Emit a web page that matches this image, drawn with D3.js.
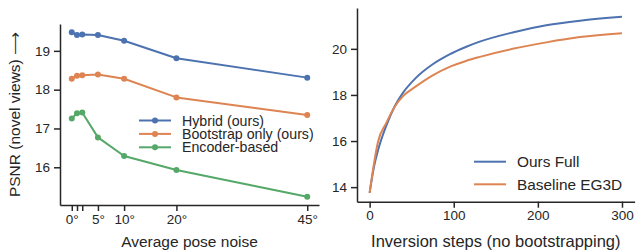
<!DOCTYPE html>
<html>
<head>
<meta charset="utf-8">
<script src="https://cdn.jsdelivr.net/npm/d3@7"></script>
<style>
    html, body { margin: 0; padding: 0; background: #fff; }
    svg { display: block; font-family: "Liberation Sans", Arial, sans-serif; }
    .axis text { fill: #262626; }
    .axis line, .axis path { stroke: #262626; stroke-width: 1.5; }
</style>
</head>
<body>
<svg id="chart" width="636" height="251"></svg>
<script>
// Left panel: PSNR against pose noise
const noiseDegrees  = [0, 1, 2, 5, 10, 20, 45];
const hybridPsnr    = [19.48, 19.41, 19.42, 19.41, 19.26, 18.81, 18.31];
const bootstrapPsnr = [18.28, 18.36, 18.37, 18.39, 18.28, 17.80, 17.35];
const encoderPsnr   = [17.26, 17.39, 17.41, 16.77, 16.29, 15.93, 15.24];
const noiseTickValues = [0, 1, 2, 5, 10, 20, 45];
const noiseTickLabels = ["0°", "", "", "5°", "10°", "20°", "45°"];
const noisePsnrTicks  = [16, 17, 18, 19];
const noiseSeriesNames = ["Hybrid (ours)", "Bootstrap only (ours)", "Encoder-based"];

// Right panel: PSNR against inversion steps
const oursSteps     = [0, 5, 10, 20, 30, 40, 55, 75, 95, 115, 130, 170, 210, 250, 300];
const oursPsnr      = [13.75, 14.85, 15.6, 16.68, 17.52, 18.11, 18.74, 19.33, 19.76, 20.09, 20.3, 20.71, 21.02, 21.22, 21.39];
const baselineSteps = [0, 10, 20, 30, 40, 55, 75, 95, 115, 130, 170, 210, 250, 300];
const baselinePsnr  = [13.75, 15.97, 16.8, 17.5, 17.96, 18.37, 18.85, 19.22, 19.48, 19.64, 20.0, 20.28, 20.51, 20.68];
const stepTicks     = [0, 100, 200, 300];
const stepPsnrTicks = [14, 16, 18, 20];
const stepSeriesNames = ["Ours Full", "Baseline EG3D"];

const palette = ["#4c72b0", "#dd8452", "#55a868"];
const inkColor = "#262626";

const svg = d3.select("#chart");

/**
 * Domain padded by 5% on each side, the way matplotlib autoscales.
 */
function paddedExtent(values)
{
    let [lo, hi] = d3.extent(values);
    let pad = (hi - lo) * 0.05;
    return [lo - pad, hi + pad];
}

/**
 * Draws one panel: axes, lines, optional markers and the legend.
 */
function drawPanel(opts)
{
    let g = svg.append("g");

    let allX = opts.series.flatMap(s => s.x);
    let allY = opts.series.flatMap(s => s.y);

    let x = d3.scaleLinear().domain(paddedExtent(allX)).range([opts.left, opts.right]);
    let y = d3.scaleLinear().domain(paddedExtent(allY)).range([opts.bottom, opts.top]);

    let xAxis = d3.axisBottom(x)
        .tickValues(opts.xTicks)
        .tickFormat((d, i) => opts.xLabels ? opts.xLabels[i] : d3.format("d")(d))
        .tickSize(6)
        .tickSizeOuter(0)
        .tickPadding(3);

    let yAxis = d3.axisLeft(y)
        .tickValues(opts.yTicks)
        .tickFormat(d3.format("d"))
        .tickSize(6)
        .tickSizeOuter(0)
        .tickPadding(4);

    g.append("g")
        .attr("class", "axis")
        .attr("transform", "translate(0," + opts.bottom + ")")
        .call(xAxis)
        .call(a => a.selectAll("text").style("font-size", "13.5px"));

    g.append("g")
        .attr("class", "axis")
        .attr("transform", "translate(" + opts.left + ",0)")
        .call(yAxis)
        .call(a => a.selectAll("text").style("font-size", "13.5px"));

    let line = d3.line()
        .x(d => x(d[0]))
        .y(d => y(d[1]))
        .curve(opts.markers ? d3.curveLinear : d3.curveMonotoneX);

    opts.series.forEach((s, i) => {
        let pts = s.x.map((v, k) => [v, s.y[k]]);
        g.append("path")
            .datum(pts)
            .attr("d", line)
            .attr("fill", "none")
            .attr("stroke", palette[i])
            .attr("stroke-width", 2)
            .attr("stroke-linejoin", "round");

        if (opts.markers) {
            g.selectAll(null)
                .data(pts)
                .enter()
                .append("circle")
                .attr("cx", d => x(d[0]))
                .attr("cy", d => y(d[1]))
                .attr("r", 3)
                .attr("fill", palette[i]);
        }
    });

    // Axis titles
    g.append("text")
        .attr("x", (opts.left + opts.right) / 2)
        .attr("y", 247)
        .attr("text-anchor", "middle")
        .attr("fill", inkColor)
        .style("font-size", opts.labelSize + "px")
        .text(opts.xTitle);

    if (opts.yTitle) {
        g.append("text")
            .attr("transform", "translate(20," + ((opts.top + opts.bottom) / 2) + ") rotate(-90)")
            .attr("text-anchor", "middle")
            .attr("fill", inkColor)
            .style("font-size", opts.labelSize + "px")
            .text(opts.yTitle);
    }

    // Legend
    let lg = opts.legend;
    opts.series.forEach((s, i) => {
        let cy = lg.y + i * lg.gap;
        g.append("line")
            .attr("x1", lg.x)
            .attr("x2", lg.x + 32)
            .attr("y1", cy)
            .attr("y2", cy)
            .attr("stroke", palette[i])
            .attr("stroke-width", 2);

        if (opts.markers) {
            g.append("circle")
                .attr("cx", lg.x + 16)
                .attr("cy", cy)
                .attr("r", 3)
                .attr("fill", palette[i]);
        }

        g.append("text")
            .attr("x", lg.x + 43)
            .attr("y", cy)
            .attr("dy", "0.36em")
            .attr("fill", inkColor)
            .style("font-size", lg.size + "px")
            .text(s.name);
    });
}

drawPanel({
    left: 60, right: 319, top: 24, bottom: 205,
    series: [
        {name: noiseSeriesNames[0], x: noiseDegrees, y: hybridPsnr},
        {name: noiseSeriesNames[1], x: noiseDegrees, y: bootstrapPsnr},
        {name: noiseSeriesNames[2], x: noiseDegrees, y: encoderPsnr}
    ],
    xTicks: noiseTickValues,
    xLabels: noiseTickLabels,
    yTicks: noisePsnrTicks,
    markers: true,
    xTitle: "Average pose noise",
    yTitle: "PSNR (novel views) \u27F6",
    labelSize: 15.5,
    legend: {x: 139, y: 120.5, gap: 13.4, size: 14.2}
});

drawPanel({
    left: 357, right: 634.6, top: 8, bottom: 201.7,
    series: [
        {name: stepSeriesNames[0], x: oursSteps, y: oursPsnr},
        {name: stepSeriesNames[1], x: baselineSteps, y: baselinePsnr}
    ],
    xTicks: stepTicks,
    yTicks: stepPsnrTicks,
    markers: false,
    xTitle: "Inversion steps (no bootstrapping)",
    labelSize: 16.5,
    legend: {x: 474, y: 161.7, gap: 22.6, size: 15.4}
});
</script>
</body>
</html>
